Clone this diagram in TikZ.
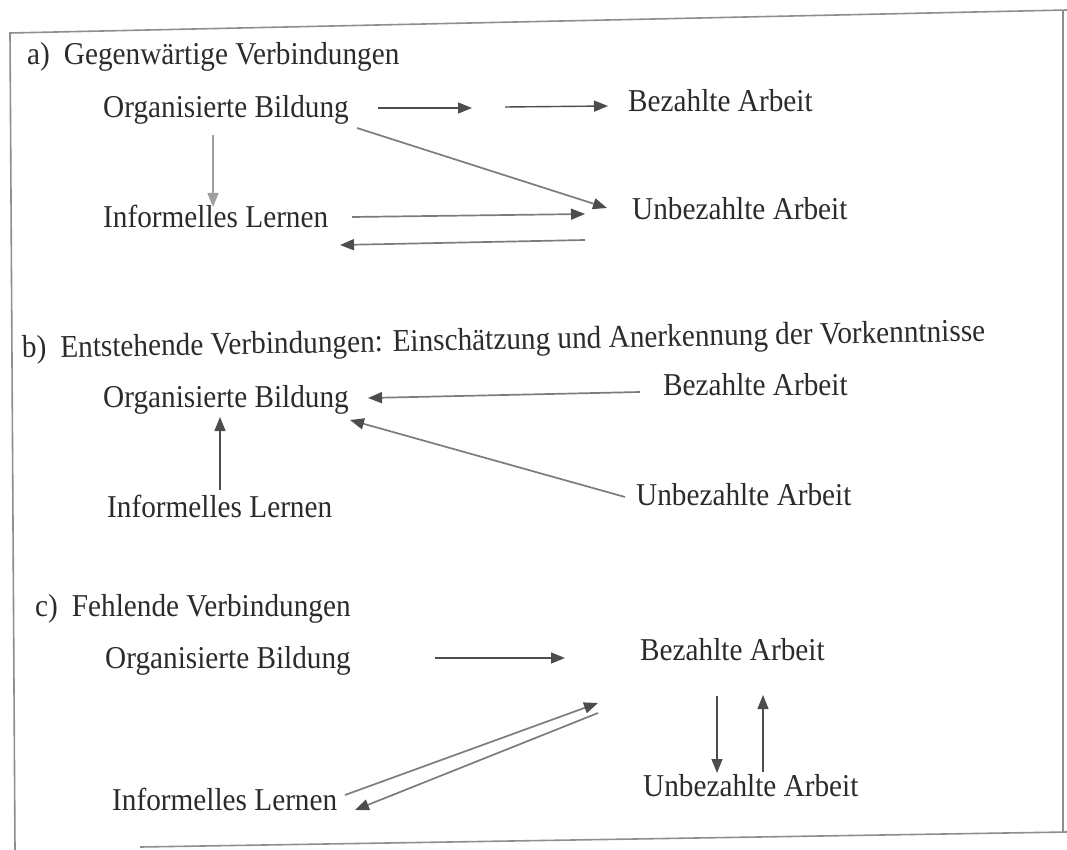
\documentclass[tikz,border=0pt]{standalone}
\usepackage{fontspec}
\setmainfont{Liberation Serif}[FakeStretch=0.92]
\usetikzlibrary{arrows.meta,calc}
\definecolor{ink}{HTML}{2B2B2B}
\definecolor{line}{HTML}{7C7C7C}
\definecolor{lightline}{HTML}{A0A0A0}
\definecolor{tip}{HTML}{4D4D4D}
\definecolor{frame}{HTML}{8E8E8E}
\begin{document}
\begin{tikzpicture}[x=1pt,y=-1pt,
  lbl/.style={anchor=base west, inner sep=0pt, font=\fontsize{31.8}{36}\selectfont, text=ink},
  arr/.style={draw=line, line width=1.7pt, -{Triangle[length=14pt,width=11pt,color=tip]}},
  darr/.style={draw=tip, line width=1.4pt, -{Triangle[length=14pt,width=11pt,color=tip]}},
  larr/.style={draw=lightline, line width=1.7pt, -{Triangle[length=14pt,width=11pt,color=lightline]}},
  box/.style={draw=frame, line width=1.6pt}
]
\useasboundingbox (0,0) rectangle (1067,850);

% frame around the three panels
\draw[box] (1067,10) -- (10,33) -- (15,850);
\draw[box] (1063,11) -- (1063,833);
\draw[box] (140,847) -- (1067,832);

% ---- a) present connections
\node[lbl] (ta)  at (27,65)  {a)\hspace{0.44em}Gegenwärtige Verbindungen};
\node[lbl] (OBa) at (103,118) {Organisierte Bildung};
\node[lbl] (BAa) at (628,112) {Bezahlte Arbeit};
\node[lbl] (ILa) at (103,228) {Informelles Lernen};
\node[lbl] (UAa) at (632,220) {Unbezahlte Arbeit};

\coordinate (a1s) at (378,108); \coordinate (a1e) at (472,108);
\coordinate (a2s) at (505,107); \coordinate (a2e) at (608,106);
\draw[darr] (a1s) -- (a1e);
\draw[darr] (a2s) -- (a2e);
\draw[larr] (213,135) -- (213,207);
\draw[arr] (357,128) -- (607,208);
\draw[arr] (352,217) -- (585,214);
\draw[arr] (585,240) -- (340,245);

% ---- b) emerging connections
\node[lbl, rotate=1] (tb) at (22,358) {b)\hspace{0.44em}Entstehende Verbindungen: Einschätzung und Anerkennung der Vorkenntnisse};
\node[lbl] (OBb) at (103,407) {Organisierte Bildung};
\node[lbl] (BAb) at (663,395) {Bezahlte Arbeit};
\node[lbl] (UAb) at (636,505) {Unbezahlte Arbeit};
\node[lbl] (ILb) at (107,517) {Informelles Lernen};

\draw[arr] (640,392) -- (368,398);
\draw[arr] (625,497) -- (350,420);
\draw[darr] (220,490) -- (220,417);

% ---- c) missing connections
\node[lbl] (tc)  at (35,616) {c)\hspace{0.44em}Fehlende Verbindungen};
\node[lbl] (OBc) at (105,668) {Organisierte Bildung};
\node[lbl] (BAc) at (640,660) {Bezahlte Arbeit};
\node[lbl] (UAc) at (643,796) {Unbezahlte Arbeit};
\node[lbl] (ILc) at (112,810) {Informelles Lernen};

\draw[darr] (435,658) -- (565,658);
\draw[arr] (345,795) -- (598,703);
\draw[arr] (598,713) -- (355,810);
\draw[darr] (717,696) -- (717,773);
\draw[darr] (763,772) -- (763,695);
\end{tikzpicture}
\end{document}
